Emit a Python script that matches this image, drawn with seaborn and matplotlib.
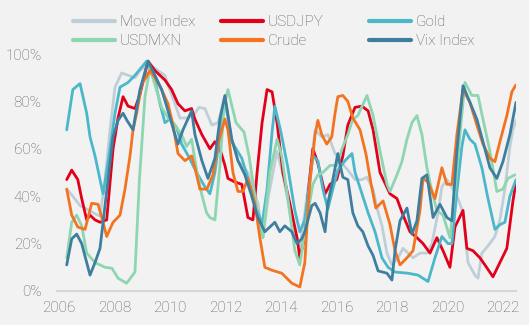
import matplotlib
matplotlib.use("Agg")
import matplotlib.pyplot as plt
from matplotlib.lines import Line2D
import seaborn as sns
import pandas as pd

# ---------------- data (percentile, %) ----------------
move_x = [2006.28, 2006.50, 2006.76, 2007.00, 2007.23, 2007.48, 2007.66, 2007.84, 2008.02, 2008.26,
          2008.49, 2008.74, 2008.92, 2009.21, 2009.57, 2009.82, 2009.93, 2010.18, 2010.36, 2010.65,
          2010.90, 2011.05, 2011.26, 2011.51, 2011.73, 2011.98, 2012.20, 2012.45, 2012.81, 2013.17,
          2013.35, 2013.55, 2013.86, 2014.05, 2014.25, 2014.45, 2014.68, 2014.86, 2015.05, 2015.23,
          2015.47, 2015.69, 2015.95, 2016.20, 2016.41, 2016.67, 2016.92, 2017.10, 2017.32, 2017.46,
          2017.64, 2017.82, 2018.00, 2018.22, 2018.40, 2018.58, 2018.76, 2019.01, 2019.26, 2019.44,
          2019.66, 2019.80, 2019.98, 2020.20, 2020.38, 2020.56, 2020.74, 2020.99, 2021.10, 2021.24,
          2021.46, 2021.71, 2021.89, 2022.07, 2022.25, 2022.36, 2022.47]
move_v = [43, 40, 36, 34.6, 33, 31.6, 47, 68, 86, 92,
          91, 90, 93, 96, 93, 91, 87, 79, 73, 73,
          75, 77.5, 77, 70, 71, 82, 65, 55, 50, 37,
          22.5, 40, 59, 50, 38, 25, 18, 33, 50, 68,
          65, 66, 58, 54, 51, 47, 47, 48, 43, 35,
          27.5, 16, 11, 14, 18, 16, 14, 16, 16, 20,
          33, 44, 47, 43, 39, 33, 12, 6.7, 5.4, 16,
          19, 23, 30, 43, 61, 68, 72]

jpy_x = [2006.28, 2006.46, 2006.68, 2006.82, 2007.00, 2007.12, 2007.30, 2007.48, 2007.72, 2007.95,
         2008.13, 2008.31, 2008.49, 2008.74, 2008.92, 2009.21, 2009.46, 2009.82, 2010.06, 2010.29,
         2010.54, 2010.78, 2010.90, 2011.15, 2011.44, 2011.62, 2011.80, 2011.98, 2012.09, 2012.34,
         2012.59, 2012.70, 2012.81, 2012.99, 2013.14, 2013.32, 2013.50, 2013.68, 2013.86, 2014.07,
         2014.32, 2014.58, 2014.68, 2014.86, 2014.97, 2015.15, 2015.33, 2015.59, 2015.77, 2016.01,
         2016.23, 2016.41, 2016.67, 2016.92, 2017.14, 2017.32, 2017.57, 2017.93, 2018.18, 2018.40,
         2018.65, 2018.90, 2019.12, 2019.37, 2019.62, 2019.84, 2020.09, 2020.27, 2020.56, 2020.70,
         2020.92, 2021.17, 2021.35, 2021.64, 2021.89, 2022.14, 2022.36, 2022.47]
jpy_v = [47, 51, 47, 39, 30, 32, 30, 29, 30, 60,
         73, 82, 78, 77, 83, 97, 93, 89, 85, 79,
         76, 77, 72.5, 66, 60, 63, 60, 53, 47.5, 46,
         45, 38, 31, 30, 50, 71, 85, 84, 71, 50,
         37, 22.5, 14, 22.5, 40, 60, 54, 41, 45, 47,
         57, 70, 77.5, 78, 76, 68, 50, 41, 39, 32,
         25, 22.5, 20, 16, 22.5, 17, 10, 27, 34, 18,
         17, 14, 11, 6, 12, 18, 38, 46]

gold_x = [2006.28, 2006.50, 2006.76, 2007.00, 2007.12, 2007.30, 2007.48, 2007.59, 2007.77, 2008.02,
          2008.20, 2008.49, 2008.74, 2009.16, 2009.46, 2009.64, 2009.82, 2010.00, 2010.24, 2010.42,
          2010.66, 2010.96, 2011.26, 2011.44, 2011.62, 2011.86, 2011.98, 2012.23, 2012.59, 2012.81,
          2013.06, 2013.32, 2013.50, 2013.68, 2013.78, 2014.00, 2014.25, 2014.50, 2014.68, 2014.86,
          2015.05, 2015.15, 2015.33, 2015.51, 2015.69, 2015.87, 2016.05, 2016.31, 2016.56, 2016.67,
          2016.92, 2017.14, 2017.39, 2017.64, 2017.86, 2018.11, 2018.58, 2018.94, 2019.30, 2019.55,
          2019.80, 2020.02, 2020.16, 2020.34, 2020.52, 2020.63, 2020.81, 2020.99, 2021.24, 2021.46,
          2021.71, 2021.89, 2022.07, 2022.25, 2022.47]
gold_v = [68, 85, 87.5, 75, 65, 57, 47, 41, 54, 75,
          86, 88, 91, 97, 89, 79, 71, 72.6, 69, 62,
          57, 50, 44, 41, 50, 71, 81, 63, 56, 47.5,
          37, 28, 43, 67, 78, 67, 52, 34, 25, 30,
          47, 57, 55, 43, 34.6, 43, 51, 55, 58, 50,
          41, 33, 25, 14, 10, 8, 7.5, 6.7, 4, 14,
          23, 20, 20, 42, 61, 68, 64, 62, 52, 39,
          26, 28, 29, 40, 47]

mxn_x = [2006.28, 2006.46, 2006.64, 2006.82, 2007.00, 2007.30, 2007.66, 2007.91, 2008.13, 2008.44,
         2008.74, 2008.90, 2009.10, 2009.28, 2009.46, 2009.70, 2009.93, 2010.18, 2010.42, 2010.60,
         2010.78, 2010.96, 2011.14, 2011.32, 2011.44, 2011.62, 2011.80, 2011.95, 2012.09, 2012.38,
         2012.67, 2012.85, 2012.99, 2013.17, 2013.35, 2013.60, 2013.86, 2014.03, 2014.25, 2014.50,
         2014.68, 2014.94, 2015.15, 2015.33, 2015.51, 2015.77, 2016.02, 2016.20, 2016.41, 2016.59,
         2016.77, 2017.10, 2017.32, 2017.57, 2017.82, 2017.93, 2018.18, 2018.36, 2018.54, 2018.72,
         2018.90, 2019.08, 2019.26, 2019.44, 2019.62, 2019.84, 2020.09, 2020.27, 2020.45, 2020.63,
         2020.88, 2021.10, 2021.28, 2021.53, 2021.78, 2022.00, 2022.18, 2022.43]
mxn_v = [14, 29, 32, 27.5, 16, 12, 10, 9.6, 5.4, 3.3,
         8, 47, 82, 94, 87, 77.5, 73, 70, 66, 61,
         64, 51, 41, 33, 31, 30, 53, 78, 85, 71,
         67, 57, 46, 31, 22.5, 50, 64, 57, 39, 17,
         11, 31, 45, 49, 50, 53, 53, 60, 66, 72.5,
         74, 82.5, 74, 59, 45, 42, 49, 54.6, 64, 71,
         74, 66, 52, 42, 34, 32, 22.5, 42, 66, 88,
         82.5, 82.5, 72.5, 59, 42, 43, 47.5, 49]

crude_x = [2006.28, 2006.46, 2006.68, 2006.94, 2007.18, 2007.41, 2007.59, 2007.72, 2007.95, 2008.20,
           2008.38, 2008.56, 2008.67, 2008.80, 2008.98, 2009.28, 2009.46, 2009.70, 2009.93, 2010.11,
           2010.29, 2010.54, 2010.78, 2010.90, 2011.08, 2011.33, 2011.55, 2011.73, 2011.98, 2012.09,
           2012.27, 2012.45, 2012.63, 2012.81, 2013.06, 2013.24, 2013.42, 2013.68, 2014.03, 2014.39,
           2014.68, 2014.86, 2014.95, 2015.05, 2015.23, 2015.33, 2015.47, 2015.65, 2015.83, 2015.95,
           2016.05, 2016.23, 2016.41, 2016.59, 2016.85, 2017.06, 2017.25, 2017.42, 2017.68, 2017.93,
           2018.11, 2018.29, 2018.54, 2018.76, 2019.01, 2019.12, 2019.30, 2019.55, 2019.80, 2019.98,
           2020.16, 2020.34, 2020.56, 2020.81, 2021.06, 2021.28, 2021.53, 2021.71, 2021.89, 2022.14,
           2022.32, 2022.47]
crude_v = [43, 32, 27, 26, 37, 36.6, 29, 23, 29, 32,
           43, 57, 68, 75, 87, 93, 90, 85, 79, 70,
           58, 55, 57, 52, 43, 43, 49, 62, 72.5, 68,
           50, 42, 42, 47.5, 37, 22.5, 10, 8.75, 7.5, 3.3,
           1.7, 12, 30, 47, 66, 72, 66, 62, 65, 75,
           82, 82.5, 80, 73, 68, 58, 45, 35, 38, 28,
           17, 11, 14, 17, 34, 47.5, 46, 39, 52, 45,
           45, 66, 85, 79.6, 70, 62, 56, 54.6, 63, 74,
           84, 87]

vix_x = [2006.28, 2006.46, 2006.64, 2006.82, 2007.00, 2007.12, 2007.30, 2007.48, 2007.59, 2007.77,
         2007.95, 2008.13, 2008.31, 2008.45, 2008.67, 2008.74, 2008.92, 2009.21, 2009.46, 2009.70,
         2009.93, 2010.18, 2010.29, 2010.47, 2010.78, 2010.90, 2011.15, 2011.37, 2011.62, 2011.80,
         2011.98, 2012.23, 2012.45, 2012.70, 2012.92, 2013.17, 2013.42, 2013.60, 2013.78, 2013.96,
         2014.14, 2014.39, 2014.58, 2014.75, 2014.86, 2015.11, 2015.23, 2015.41, 2015.59, 2015.69,
         2015.87, 2016.05, 2016.23, 2016.41, 2016.59, 2016.77, 2016.95, 2017.14, 2017.32, 2017.50,
         2017.82, 2018.00, 2018.11, 2018.29, 2018.54, 2018.72, 2018.90, 2019.08, 2019.26, 2019.48,
         2019.73, 2019.98, 2020.16, 2020.34, 2020.56, 2020.81, 2021.06, 2021.28, 2021.53, 2021.78,
         2022.00, 2022.25, 2022.47]
vix_v = [11, 22, 24, 20, 12, 6.7, 12, 18, 29, 47,
         65, 72, 75, 72, 68, 73, 85, 97, 91, 85,
         76, 66, 62, 68, 76, 66, 55, 47.5, 56, 72.5,
         82.5, 64, 55, 49, 41, 31, 25, 27, 29, 25,
         27.5, 25, 20, 22, 25, 36, 37, 33, 25, 37,
         47, 58, 48, 47, 33, 27.5, 25, 19, 15, 8.5,
         7.5, 4.6, 17, 29.6, 35, 24, 29.6, 47.5, 49, 31,
         36.6, 31, 29.6, 59, 86.6, 79.6, 72.5, 63, 52, 47.5,
         54.6, 66, 79.6]

series_names = ["Move Index", "USDJPY", "Gold", "USDMXN", "Crude", "Vix Index"]
colors = ["#BFCFD8", "#E2001A", "#4BB7CB", "#8DD6B0", "#F47321", "#3E7E9E"]
y_ticks = [0, 20, 40, 60, 80, 100]
x_ticks = [2006, 2008, 2010, 2012, 2014, 2016, 2018, 2020, 2022]

frames = []
for name, xs, vs in zip(series_names,
                        [move_x, jpy_x, gold_x, mxn_x, crude_x, vix_x],
                        [move_v, jpy_v, gold_v, mxn_v, crude_v, vix_v]):
    frames.append(pd.DataFrame({"year": xs, "value": vs, "series": name}))
df = pd.concat(frames, ignore_index=True)

# ---------------- style ----------------
sns.set_style("white")
plt.rcParams["font.family"] = ["Roboto", "DejaVu Sans"]
plt.rcParams["font.weight"] = "light"
bg = "#F2F2F2"
txt = "#5E5E5E"

W, H = 529, 325
fig = plt.figure(figsize=(W / 100, H / 100), dpi=100, facecolor=bg)
ax = fig.add_axes([57 / W, (H - 291) / H, (516 - 57) / W, (291 - 54) / H])
ax.set_facecolor(bg)

palette = dict(zip(series_names, colors))
sns.lineplot(data=df, x="year", y="value", hue="series", hue_order=series_names,
             palette=palette, estimator=None, sort=True, lw=2.0, legend=False, ax=ax)

ax.set_xlim(2005.93, 2022.47)
ax.set_ylim(0, 100)
ax.set_xticks(x_ticks)
ax.set_xticklabels([str(t) for t in x_ticks])
ax.set_yticks(y_ticks)
ax.set_yticklabels([f"{t}%" for t in y_ticks])
ax.set_xlabel("")
ax.set_ylabel("")
for s in ["top", "right", "left"]:
    ax.spines[s].set_visible(False)
ax.spines["bottom"].set_color("#D6D6D6")
ax.spines["bottom"].set_linewidth(1.5)
ax.tick_params(axis="both", length=0, labelsize=11, labelcolor=txt)
ax.tick_params(axis="x", pad=7)
ax.tick_params(axis="y", pad=11)
ax.grid(False)

# legend: three columns placed individually
cols = [(0, 3), (1, 4), (2, 5)]
col_x = [73 / W, 221 / W, 369 / W]
for (i, j), xx in zip(cols, col_x):
    handles = [Line2D([0], [0], color=colors[k], lw=3) for k in (i, j)]
    labels = [series_names[k] for k in (i, j)]
    fig.legend(handles, labels, loc="center left", bbox_to_anchor=(xx, 1 - 31.5 / H),
               frameon=False, fontsize=11, handlelength=2.75, handletextpad=0.3,
               labelspacing=0.32, borderpad=0, borderaxespad=0, labelcolor=txt)

fig.savefig("out.png", dpi=100, facecolor=bg)
